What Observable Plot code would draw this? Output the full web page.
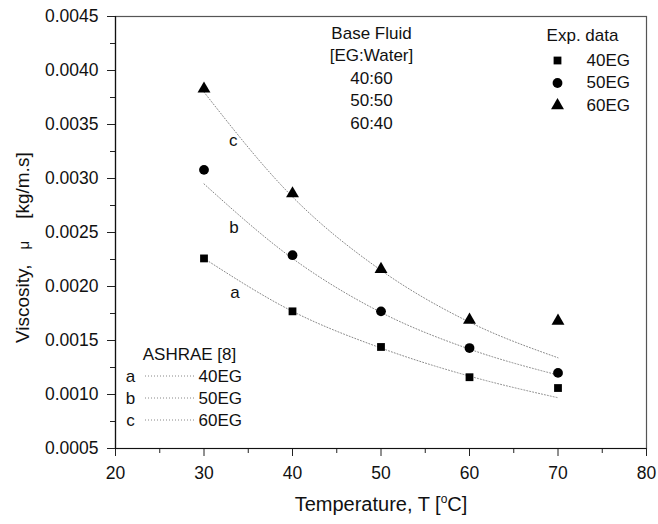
<!DOCTYPE html>
<html><head><meta charset="utf-8">
<script src="https://cdn.jsdelivr.net/npm/d3@7"></script>
<script src="https://cdn.jsdelivr.net/npm/@observablehq/plot@0.6"></script>
<style>body{margin:0;background:#fff}</style>
</head><body><div id="chart"></div>
<script>
const temps = [30, 40, 50, 60, 70];
const series = ["40EG", "50EG", "60EG"];
const ratios = ["40:60", "50:50", "60:40"];
const letters = ["a", "b", "c"];
const symbols = ["square", "circle", "triangle"];
const symbolR = [4.4, 4.9, 4.8];
const exp40 = [0.00226, 0.00177, 0.00144, 0.00116, 0.00106];
const exp50 = [0.00308, 0.00229, 0.00177, 0.00143, 0.00120];
const exp60 = [0.00383, 0.00286, 0.00216, 0.00169, 0.00168];
const ash40 = [0.00226, 0.00177, 0.00143, 0.00117, 0.00097];
const ash50 = [0.00295, 0.00226, 0.00176, 0.00142, 0.00118];
const ash60 = [0.00380, 0.00283, 0.00215, 0.00167, 0.00134];
const curveLabelX = [33.5, 33.4, 33.3];
const curveLabelY = [0.00194, 0.00255, 0.00335];
const xMajor = [20, 30, 40, 50, 60, 70, 80];
const xMinor = [25, 35, 45, 55, 65, 75];
const yMajor = [0.0005, 0.0010, 0.0015, 0.0020, 0.0025, 0.0030, 0.0035, 0.0040, 0.0045];
const yMinor = [0.00075, 0.00125, 0.00175, 0.00225, 0.00275, 0.00325, 0.00375, 0.00425];

const expSets = [exp40, exp50, exp60];
const ashSets = [ash40, ash50, ash60];
const expData = series.flatMap((s, i) => temps.map((t, j) => ({s, i, t, v: expSets[i][j]})));
const ashData = series.flatMap((s, i) => temps.map((t, j) => ({s, i, t, v: ashSets[i][j]})));
const curveLabels = letters.map((l, i) => ({l, x: curveLabelX[i], y: curveLabelY[i]}));

const FONT = "'Liberation Sans', Arial, sans-serif";
const fs = 17;
const txt = {fontSize: fs, lineAnchor: "middle"};

const marks = [
  Plot.frame({stroke: "#555", strokeWidth: 1.2}),
  Plot.axisX(xMajor, {tickSize: 8, tickPadding: 10, fontSize: 17.5, label: null, stroke: "#222"}),
  Plot.axisX(xMinor, {tickSize: 5, tickFormat: () => "", label: null, stroke: "#222"}),
  Plot.axisY(yMajor, {tickSize: 8, tickPadding: 9, fontSize: 17.5, tickFormat: d3.format(".4f"), label: null, stroke: "#222"}),
  Plot.axisY(yMinor, {tickSize: 5, tickFormat: () => "", label: null, stroke: "#222"}),
  Plot.ruleX([20], {stroke: "#111", strokeWidth: 1.2}),
  Plot.ruleY([0.0005], {stroke: "#111", strokeWidth: 1.2}),
  Plot.line(ashData, {x: "t", y: "v", z: "s", curve: "monotone-x", stroke: "#888", strokeWidth: 1, strokeDasharray: "1,2"}),
  Plot.text(curveLabels, {x: "x", y: "y", text: "l", ...txt}),
  ...series.map((s, i) => Plot.dot(expData.filter(d => d.i === i), {x: "t", y: "v", symbol: () => symbols[i], r: symbolR[i], fill: "#000", stroke: "none"})),
  // Base fluid annotation
  Plot.text(["Base Fluid"], {frameAnchor: "top-left", dx: 256, dy: 17, textAnchor: "middle", ...txt}),
  Plot.text(["[EG:Water]"], {frameAnchor: "top-left", dx: 256, dy: 39, textAnchor: "middle", ...txt}),
  ...ratios.map((r, i) => Plot.text([r], {frameAnchor: "top-left", dx: 256, dy: 62 + 22.5 * i, textAnchor: "middle", ...txt})),
  // Exp. data legend
  Plot.text(["Exp. data"], {frameAnchor: "top-left", dx: 467, dy: 19, textAnchor: "middle", ...txt}),
  ...series.map((s, i) => Plot.dot([s], {frameAnchor: "top-left", dx: 442, dy: 44 + 22.5 * i, symbol: () => symbols[i], r: symbolR[i], fill: "#000", stroke: "none"})),
  ...series.map((s, i) => Plot.text([s], {frameAnchor: "top-left", dx: 471, dy: 44 + 22.5 * i, textAnchor: "start", ...txt})),
  // ASHRAE legend
  Plot.text(["ASHRAE [8]"], {frameAnchor: "bottom-left", dx: 74, dy: -94, textAnchor: "middle", ...txt}),
  ...letters.map((l, i) => Plot.text([l], {frameAnchor: "bottom-left", dx: 15, dy: -72 + 22 * i, textAnchor: "middle", ...txt})),
  ...series.map((s, i) => Plot.text([s], {frameAnchor: "bottom-left", dx: 83, dy: -72 + 22 * i, textAnchor: "start", ...txt}))
];

const svg = Plot.plot({
  width: 658,
  height: 524,
  marginTop: 16,
  marginLeft: 115,
  marginRight: 12,
  marginBottom: 76,
  style: {fontFamily: FONT, background: "#fff", color: "#111"},
  x: {domain: [20, 80]},
  y: {domain: [0.0005, 0.0045]},
  marks
});

// ASHRAE legend line samples and axis titles with special glyph spacing
const g = d3.select(svg).append("g");
const x0 = 115, yb = 448;
letters.forEach((l, i) => {
  g.append("line").attr("x1", x0 + 30).attr("x2", x0 + 80)
    .attr("y1", yb - 72 + 22 * i).attr("y2", yb - 72 + 22 * i)
    .attr("stroke", "#888").attr("stroke-dasharray", "1,2");
});
const t = g.append("text").attr("x", 381).attr("y", 511).attr("text-anchor", "middle")
  .attr("font-size", 20).attr("font-family", FONT).attr("fill", "#111");
t.append("tspan").text("Temperature, T [");
t.append("tspan").attr("font-size", 12).attr("dy", -8).text("o");
t.append("tspan").attr("dy", 8).text("C]");

const yt = g.append("text").attr("transform", "translate(29,343) rotate(-90)")
  .attr("text-anchor", "start").attr("font-size", 19).attr("font-family", FONT).attr("fill", "#111");
yt.append("tspan").text("Viscosity,");
yt.append("tspan").attr("dx", 15).attr("font-size", 15).text("μ");
yt.append("tspan").attr("dx", 22).text("[kg/m.s]");

document.getElementById("chart").appendChild(svg);
</script>
</body></html>
